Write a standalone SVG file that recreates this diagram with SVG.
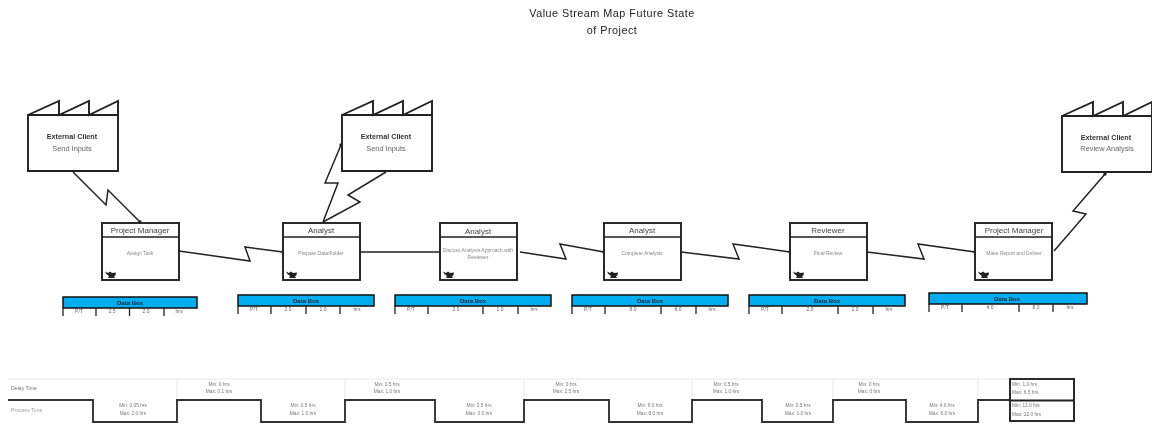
<svg xmlns="http://www.w3.org/2000/svg" xmlns:xlink="http://www.w3.org/1999/xlink" width="1152" height="425" viewBox="0 0 1152 425">
<style>
text{font-family:"Liberation Sans",Arial,sans-serif;text-anchor:middle}
.title{font-size:10.8px;fill:#222;letter-spacing:.5px}
.b{fill:#fff;stroke:#222;stroke-width:1.9}
.r{fill:none;stroke:#222;stroke-width:1.9}
.ln{fill:none;stroke:#222;stroke-width:1.5}
.fh{font-size:7.2px;font-weight:bold;fill:#333}
.fs{font-size:7.4px;fill:#666}
.ph{font-size:8px;fill:#444}
.pb{font-size:5px;fill:#888}
.dbar{fill:#00aeef;stroke:#111;stroke-width:1.5}
.tick{fill:none;stroke:#222;stroke-width:1.3}
.dh{font-size:6px;font-weight:bold;fill:#123}
.dv{font-size:5px;fill:#666}
.tl{fill:none;stroke:#333;stroke-width:1.9}
.faint{fill:none;stroke:#e2e2e2;stroke-width:.8}
.tt{font-size:4.8px;fill:#777}
.tlabel{font-size:5.2px;fill:#777;text-anchor:start}
.ts{text-anchor:start}
</style>
<defs>
<marker id="dot" markerWidth="4" markerHeight="4" refX="2" refY="2" markerUnits="userSpaceOnUse"><circle cx="2" cy="2" r="1.7" fill="#222"/></marker>
<g id="factory">
<path class="b" d="M0 14H90V70H0Z"/>
<path class="r" d="M0 14L31 0V14L61 0V14L90 0V14"/>
</g>
<g id="proc">
<rect class="b" width="77" height="57"/>
<path class="ln" d="M0 14H77"/>
<path d="M3 48.500l3 1.500l2-1.500l2 1.500l4-.5q0 3-2 4l1 1.500h-7l1-2q-3-1-4-4.500z" fill="#222"/>
</g>
<filter id="soft" x="0" y="0" width="100%" height="100%"><feGaussianBlur stdDeviation="0.5"/></filter>
</defs>
<g filter="url(#soft)">
<rect width="1152" height="425" fill="#fff"/>
<g id="title"><text class="title" x="612" y="17">Value Stream Map Future State</text><text class="title" x="612" y="34">of Project</text></g>

<g id="connectors">
<path class="ln" d="M73 172L106 205L108 190L140 222" marker-end="url(#dot)"/>
<path class="ln" d="M179 251L250 261L245 247L283 252" marker-end="url(#dot)"/>
<path class="ln" d="M323 222L338 183L325 183L341 145" marker-end="url(#dot)"/>
<path class="ln" d="M386 172L348 195L360 202L323 222"/>
<path class="ln" d="M360 252H440"/>
<path class="ln" d="M520 252L566 259L560 244L604 252" marker-end="url(#dot)"/>
<path class="ln" d="M681 252L739 259L733 244L790 252" marker-end="url(#dot)"/>
<path class="ln" d="M867 252L924 259L918 244L975 252" marker-end="url(#dot)"/>
<path class="ln" d="M1054 251L1086 214L1073 211L1105 174" marker-end="url(#dot)"/>
</g>

<g id="factory1"><use xlink:href="#factory" href="#factory" x="28" y="101"/><text class="fh" x="72" y="139">External Client</text><text class="fs" x="72" y="151">Send Inputs</text></g>
<g id="factory2"><use xlink:href="#factory" href="#factory" x="342" y="101"/><text class="fh" x="386" y="139">External Client</text><text class="fs" x="386" y="151">Send Inputs</text></g>
<g id="factory3"><use xlink:href="#factory" href="#factory" x="1062" y="102"/><text class="fh" x="1106" y="140">External Client</text><text class="fs" x="1107" y="151">Review Analysis</text></g>

<g id="proc1"><use xlink:href="#proc" href="#proc" x="102" y="223"/><text class="ph" x="140" y="232.500">Project Manager</text><text class="pb" x="140" y="255">Assign Task</text></g>
<g id="proc2"><use xlink:href="#proc" href="#proc" x="283" y="223"/><text class="ph" x="321" y="232.500">Analyst</text><text class="pb" x="321" y="255">Prepare Data/Folder</text></g>
<g id="proc3"><use xlink:href="#proc" href="#proc" x="440" y="223"/><text class="ph" x="478" y="233.500">Analyst</text><text class="pb" x="478" y="252">Discuss Analysis Approach with</text><text class="pb" x="478" y="259">Reviewer</text></g>
<g id="proc4"><use xlink:href="#proc" href="#proc" x="604" y="223"/><text class="ph" x="642" y="232.500">Analyst</text><text class="pb" x="642" y="255">Complete Analysis</text></g>
<g id="proc5"><use xlink:href="#proc" href="#proc" x="790" y="223"/><text class="ph" x="828" y="232.500">Reviewer</text><text class="pb" x="828" y="255">Final Review</text></g>
<g id="proc6"><use xlink:href="#proc" href="#proc" x="975" y="223"/><text class="ph" x="1014" y="232.500">Project Manager</text><text class="pb" x="1014" y="255">Make Report and Deliver</text></g>

<g id="data1"><rect class="dbar" x="63" y="297" width="134" height="11"/><path class="tick" d="M63 308v8M96 308v8M129.500 308v8M164 308v8"/><text class="dh" x="130" y="304.500">Data Box</text><text class="dv" x="79" y="313">P/T</text><text class="dv" x="112" y="313">2.5</text><text class="dv" x="146" y="313">2.0</text><text class="dv" x="179" y="313">hrs</text></g>
<g id="data2"><rect class="dbar" x="238" y="295" width="136" height="11"/><path class="tick" d="M238 306v8M271 306v8M306 306v8M340 306v8"/><text class="dh" x="306" y="302.500">Data Box</text><text class="dv" x="254" y="311">P/T</text><text class="dv" x="288" y="311">2.0</text><text class="dv" x="323" y="311">1.0</text><text class="dv" x="357" y="311">hrs</text></g>
<g id="data3"><rect class="dbar" x="395" y="295" width="156" height="11"/><path class="tick" d="M395 306v8M428 306v8M483 306v8M518 306v8"/><text class="dh" x="473" y="302.500">Data Box</text><text class="dv" x="411" y="311">P/T</text><text class="dv" x="456" y="311">2.0</text><text class="dv" x="500" y="311">1.0</text><text class="dv" x="534" y="311">hrs</text></g>
<g id="data4"><rect class="dbar" x="572" y="295" width="156" height="11"/><path class="tick" d="M572 306v8M605 306v8M661 306v8M696 306v8"/><text class="dh" x="650" y="302.500">Data Box</text><text class="dv" x="588" y="311">P/T</text><text class="dv" x="633" y="311">8.0</text><text class="dv" x="678" y="311">8.0</text><text class="dv" x="712" y="311">hrs</text></g>
<g id="data5"><rect class="dbar" x="749" y="295" width="156" height="11"/><path class="tick" d="M749 306v8M782 306v8M838 306v8M873 306v8"/><text class="dh" x="827" y="302.500">Data Box</text><text class="dv" x="765" y="311">P/T</text><text class="dv" x="810" y="311">2.0</text><text class="dv" x="855" y="311">1.0</text><text class="dv" x="889" y="311">hrs</text></g>
<g id="data6"><rect class="dbar" x="929" y="293" width="158" height="11"/><path class="tick" d="M929 304v8M962 304v8M1019 304v8M1053 304v8"/><text class="dh" x="1007" y="300.500">Data Box</text><text class="dv" x="945" y="309">P/T</text><text class="dv" x="990" y="309">4.0</text><text class="dv" x="1036" y="309">8.0</text><text class="dv" x="1070" y="309">hrs</text></g>

<g id="timeline">
<path class="faint" d="M8 379H1010M177 379V400M345 379V400M524 379V400M692 379V400M833 379V400M978 379V400"/>
<path class="tl" d="M8 400H93V422H177V400H261V422H345V400H435V422H524V400H609V422H692V400H762V422H833V400H906V422H978V400H1010"/>
<text class="tlabel" x="11" y="390">Delay Time</text>
<text class="tlabel" x="11" y="412" fill-opacity=".7">Process Time</text>
<text class="tt" x="219" y="386">Min: 0 hrs</text><text class="tt" x="219" y="393">Max: 0.1 hrs</text>
<text class="tt" x="133" y="407">Min: 0.05 hrs</text><text class="tt" x="133" y="415">Max: 2.0 hrs</text>
<text class="tt" x="303" y="407">Min: 0.5 hrs</text><text class="tt" x="303" y="415">Max: 1.0 hrs</text>
<text class="tt" x="387" y="386">Min: 0.5 hrs</text><text class="tt" x="387" y="393">Max: 1.0 hrs</text>
<text class="tt" x="479" y="407">Min: 2.5 hrs</text><text class="tt" x="479" y="415">Max: 3.0 hrs</text>
<text class="tt" x="566" y="386">Min: 0 hrs</text><text class="tt" x="566" y="393">Max: 2.5 hrs</text>
<text class="tt" x="650" y="407">Min: 6.0 hrs</text><text class="tt" x="650" y="415">Max: 8.0 hrs</text>
<text class="tt" x="726" y="386">Min: 0.5 hrs</text><text class="tt" x="726" y="393">Max: 1.0 hrs</text>
<text class="tt" x="798" y="407">Min: 0.5 hrs</text><text class="tt" x="798" y="415">Max: 1.0 hrs</text>
<text class="tt" x="869" y="386">Min: 0 hrs</text><text class="tt" x="869" y="393">Max: 0 hrs</text>
<text class="tt" x="942" y="407">Min: 4.0 hrs</text><text class="tt" x="942" y="415">Max: 6.0 hrs</text>
</g>
<g id="totals">
<rect class="r" x="1010" y="379" width="64" height="42"/>
<path class="r" d="M1010 400.500H1074"/>
<text class="tt ts" x="1012" y="386">Min: 1.0 hrs</text><text class="tt ts" x="1012" y="394">Max: 6.5 hrs</text>
<text class="tt ts" x="1012" y="407">Min: 13.0 hrs</text><text class="tt ts" x="1012" y="416">Max: 22.0 hrs</text>
</g>
</g>
</svg>
